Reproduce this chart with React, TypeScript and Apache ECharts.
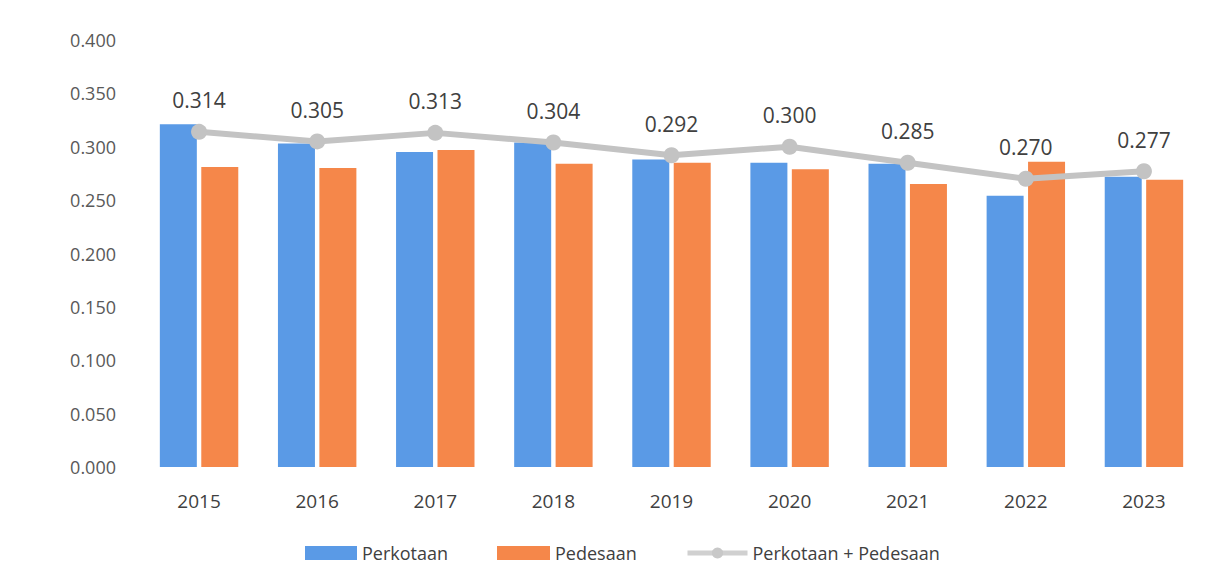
import React, { useEffect, useRef } from "react";
import * as echarts from "echarts";

const years = ["2015", "2016", "2017", "2018", "2019", "2020", "2021", "2022", "2023"];
const perkotaan = [0.321, 0.303, 0.295, 0.304, 0.288, 0.285, 0.284, 0.254, 0.272];
const pedesaan = [0.281, 0.280, 0.297, 0.284, 0.285, 0.279, 0.265, 0.286, 0.269];
const gabungan = [0.314, 0.305, 0.313, 0.304, 0.292, 0.3, 0.285, 0.27, 0.277];

const FONT = "'Open Sans', 'Noto Sans', sans-serif";

export default function App() {
  const ref = useRef<HTMLDivElement>(null);
  useEffect(() => {
    if (!ref.current) return;
    const chart = echarts.init(ref.current, null, { renderer: "svg" });
    const legendText = { fontSize: 18, color: "#404040", fontFamily: FONT };
    chart.setOption({
      animation: false,
      backgroundColor: "#ffffff",
      textStyle: { fontFamily: FONT },
      grid: { left: 132, right: 20, top: 32, bottom: 111 },
      legend: [
        {
          top: 531,
          left: 292,
          itemWidth: 52,
          itemHeight: 14,
          textStyle: legendText,
          data: [{ name: "Perkotaan", icon: "rect", itemStyle: { color: "#5a9ae6" } }],
        },
        {
          top: 531,
          left: 484,
          itemWidth: 53,
          itemHeight: 14,
          textStyle: legendText,
          data: [{ name: "Pedesaan", icon: "rect", itemStyle: { color: "#f5874a" } }],
        },
        {
          top: 531,
          left: 672,
          itemWidth: 60,
          itemHeight: 14,
          textStyle: legendText,
          lineStyle: { width: 5, color: "#d0d0d0" },
          itemStyle: { color: "#c8c8c8" },
          data: [{ name: "Perkotaan + Pedesaan" }],
        },
      ],
      xAxis: {
        type: "category",
        data: years,
        axisLine: { show: false },
        axisTick: { show: false },
        axisLabel: { fontSize: 19, color: "#404040", margin: 24, fontFamily: FONT },
      },
      yAxis: {
        type: "value",
        min: 0,
        max: 0.4,
        interval: 0.05,
        splitLine: { show: false },
        axisLine: { show: false },
        axisTick: { show: false },
        axisLabel: {
          fontSize: 18,
          color: "#595959",
          margin: 24,
          fontFamily: FONT,
          formatter: (v: number) => v.toFixed(3),
        },
      },
      series: [
        {
          name: "Perkotaan",
          type: "bar",
          data: perkotaan,
          barWidth: 37,
          barGap: "12%",
          itemStyle: { color: "#5a9ae6" },
        },
        {
          name: "Pedesaan",
          type: "bar",
          data: pedesaan,
          barWidth: 37,
          itemStyle: { color: "#f5874a" },
        },
        {
          name: "Perkotaan + Pedesaan",
          type: "line",
          data: gabungan,
          symbol: "circle",
          symbolSize: 16,
          lineStyle: { color: "#c3c3c3", width: 6 },
          itemStyle: { color: "#c3c3c3" },
          label: {
            show: true,
            position: "top",
            distance: 13,
            fontSize: 21,
            color: "#404040",
            fontFamily: FONT,
            formatter: (p: any) => Number(p.value).toFixed(3),
          },
        },
      ],
    });
    return () => chart.dispose();
  }, []);
  return <div ref={ref} style={{ width: 1215, height: 570 }} />;
}
